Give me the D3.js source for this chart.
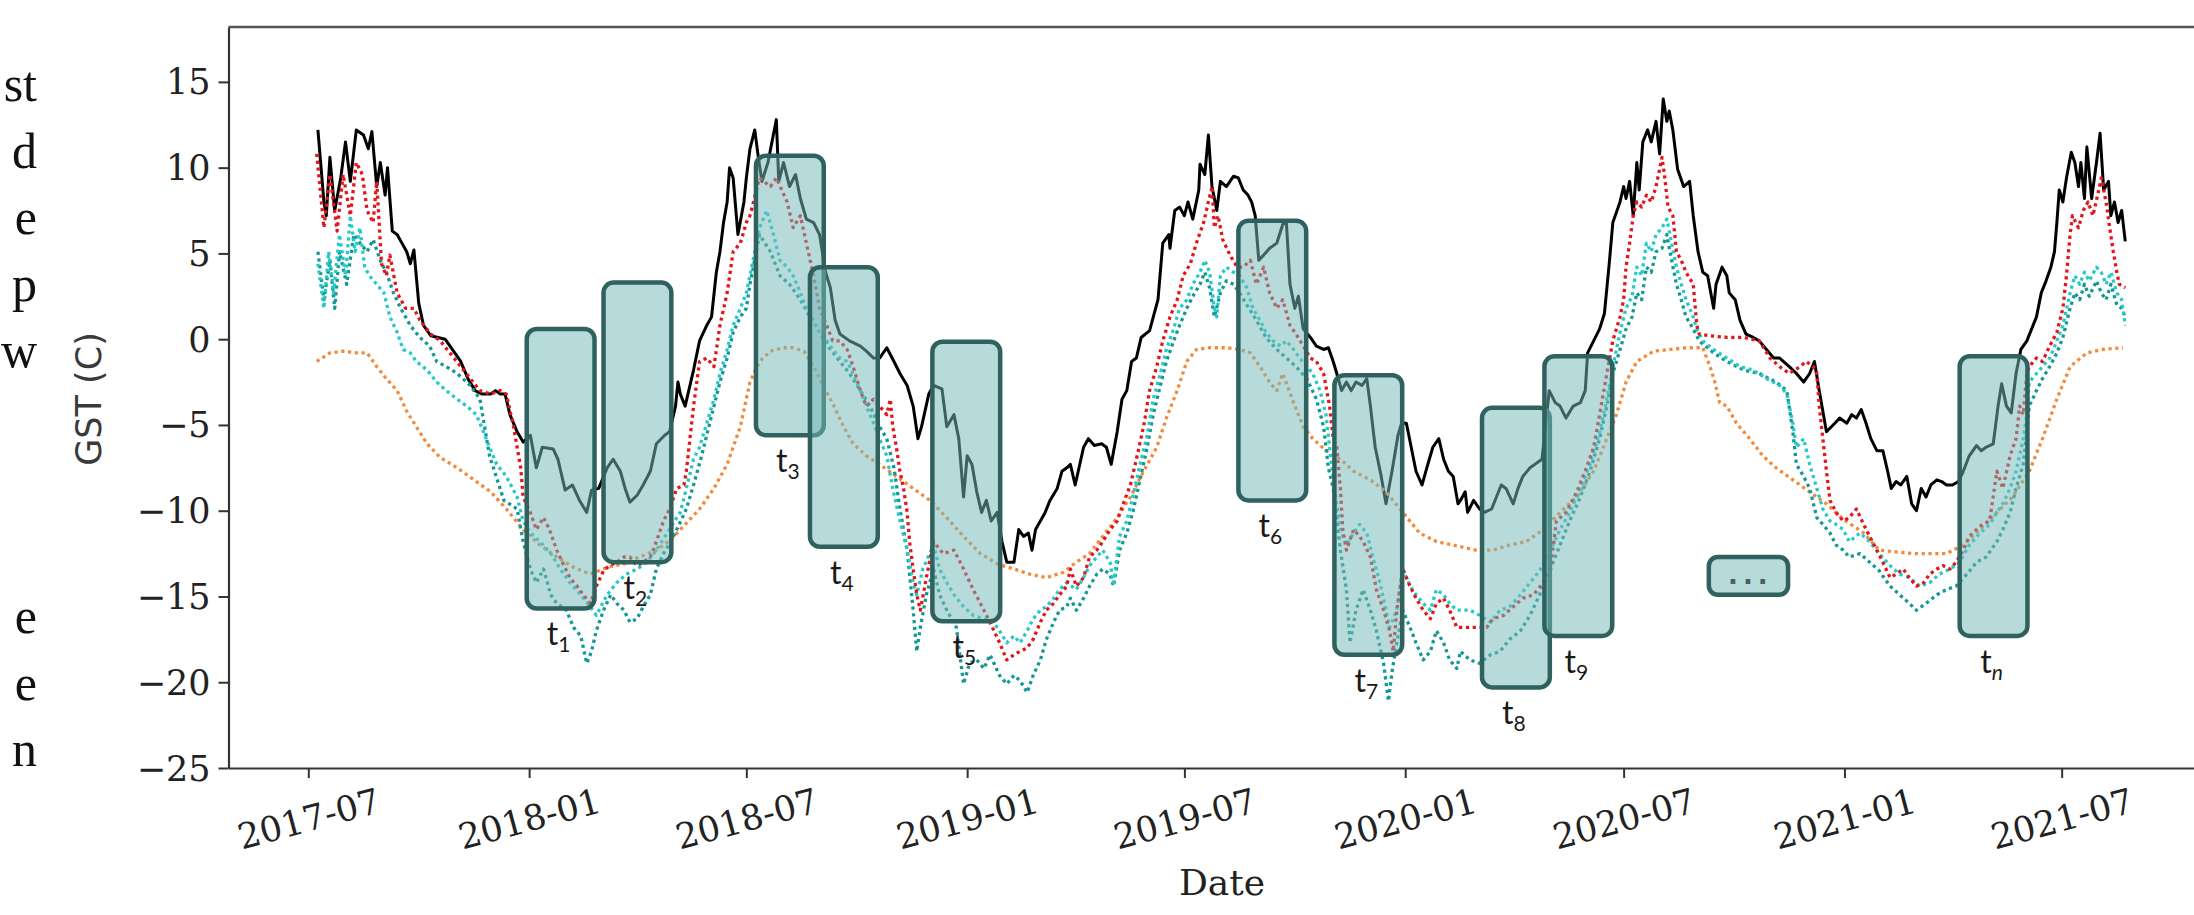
<!DOCTYPE html>
<html>
<head>
<meta charset="utf-8">
<script src="https://cdn.jsdelivr.net/npm/d3@7"></script>
<style>
  html, body { margin: 0; padding: 0; background: #fff; }
  svg { display: block; }
</style>
</head>
<body>
<svg id="chart" width="2194" height="915"></svg>
<script>
// Ground surface temperature series, each point is [day offset from 1 Jan 2018, °C]
const observed = [
  [-176,12.2],[-171,8.0],[-169,7.2],[-166,10.6],[-162,7.5],[-157,9.4],[-153,11.5],[-149,9.2],[-144,12.2],[-138,11.9],
  [-134,11.1],[-131,12.1],[-127,8.9],[-124,10.3],[-120,8.4],[-118,10.0],[-114,6.3],[-110,6.1],[-106,5.6],[-102,5.1],
  [-99,4.4],[-96,5.2],[-92,2.1],[-88,0.8],[-82,0.2],[-76,0.1],[-70,0.0],[-63,-0.7],[-57,-1.3],[-51,-2.3],[-45,-3.0],
  [-39,-3.2],[-32,-3.2],[-28,-3.0],[-24,-3.2],[-20,-3.2],[-16,-4.4],[-10,-5.4],[-5,-6.0],[1,-5.6],[6,-7.5],[11,-6.3],
  [20,-6.4],[24,-7.0],[30,-8.8],[36,-8.5],[42,-9.4],[48,-10.1],[52,-8.8],[58,-8.7],[65,-7.5],[70,-7.0],[76,-7.7],
  [80,-8.7],[84,-9.5],[90,-9.1],[95,-8.5],[101,-7.7],[106,-6.1],[113,-5.6],[117,-5.4],[122,-3.9],[124,-2.5],[126,-3.2],
  [130,-3.9],[137,-1.8],[142,-0.1],[148,0.8],[152,1.3],[156,3.9],[159,5.1],[162,6.8],[165,8.0],[167,10.0],[170,9.4],
  [174,6.1],[179,8.0],[181,9.4],[184,11.1],[188,12.2],[191,10.6],[194,9.2],[199,10.3],[206,12.8],[208,9.2],[212,10.3],
  [217,8.9],[222,9.6],[226,8.2],[231,7.0],[237,6.8],[242,6.1],[247,3.9],[251,3.0],[255,1.1],[259,0.3],[267,-0.1],
  [276,-0.4],[281,-0.7],[287,-1.1],[292,-1.1],[298,-0.5],[304,-1.3],[309,-2.0],[315,-2.7],[320,-3.9],[324,-5.8],
  [327,-5.1],[333,-3.2],[337,-2.7],[344,-2.9],[348,-5.1],[354,-4.4],[358,-5.8],[362,-9.2],[365,-6.8],[369,-7.3],
  [373,-8.9],[377,-10.1],[381,-9.4],[385,-10.6],[390,-10.1],[394,-11.8],[398,-13.0],[404,-13.0],[408,-11.1],[412,-11.5],
  [416,-11.3],[419,-12.3],[422,-11.1],[426,-10.6],[430,-10.1],[434,-9.4],[440,-8.7],[444,-7.7],[448,-7.5],[451,-7.3],
  [455,-8.5],[462,-6.3],[466,-5.8],[471,-6.2],[477,-6.1],[481,-6.3],[485,-7.3],[490,-5.4],[494,-3.5],[498,-3.0],
  [502,-1.3],[506,-1.1],[510,0.1],[517,0.5],[524,2.3],[528,5.6],[533,6.1],[534,5.3],[538,7.5],[542,7.7],[546,7.2],
  [549,8.0],[553,7.0],[558,8.7],[559,10.2],[563,9.6],[566,11.9],[569,8.9],[573,7.5],[576,9.2],[581,8.9],[587,9.5],
  [591,9.4],[595,8.7],[599,8.4],[602,8.0],[605,7.2],[608,4.6],[612,4.9],[617,5.3],[623,5.6],[628,6.7],[631,6.8],
  [634,3.2],[638,1.8],[641,2.5],[645,0.6],[651,0.1],[656,-0.4],[662,-0.6],[666,-0.5],[670,-1.3],[673,-2.0],[677,-3.0],
  [681,-2.5],[685,-3.0],[689,-2.5],[694,-2.7],[698,-2.3],[701,-3.9],[705,-6.3],[710,-8.0],[714,-9.6],[719,-7.7],
  [724,-5.6],[727,-4.9],[731,-4.9],[735,-6.3],[739,-7.7],[744,-8.5],[748,-7.5],[753,-6.3],[758,-5.8],[762,-7.0],
  [766,-7.7],[770,-8.0],[774,-9.6],[776,-9.4],[780,-8.9],[782,-10.1],[787,-9.4],[792,-9.9],[796,-10.1],[802,-9.9],
  [806,-9.2],[810,-8.5],[814,-8.7],[820,-9.6],[824,-8.7],[828,-8.0],[834,-7.5],[838,-7.3],[844,-7.0],[850,-3.0],
  [855,-3.7],[859,-3.9],[864,-4.6],[870,-3.9],[876,-3.7],[880,-3.0],[882,-0.8],[887,-0.1],[892,0.6],[896,1.5],
  [900,4.4],[903,6.8],[909,8.0],[912,8.9],[914,8.2],[917,9.2],[920,7.2],[923,10.3],[925,8.7],[928,11.5],[932,12.2],
  [935,11.5],[939,12.7],[942,10.8],[945,14.0],[948,12.7],[950,13.3],[953,12.2],[957,9.9],[962,8.9],[967,9.2],
  [970,7.2],[974,5.1],[978,3.9],[982,3.7],[987,1.8],[989,3.2],[994,4.2],[998,3.7],[1000,2.7],[1005,2.3],[1009,1.1],
  [1014,0.3],[1020,0.1],[1025,-0.1],[1031,-0.6],[1037,-1.1],[1042,-1.1],[1050,-1.6],[1056,-2.0],[1062,-2.5],
  [1067,-2.0],[1071,-1.3],[1075,-3.0],[1081,-5.4],[1088,-4.9],[1092,-4.6],[1098,-4.9],[1102,-4.4],[1106,-4.6],
  [1110,-4.1],[1114,-4.9],[1118,-5.8],[1123,-6.5],[1128,-6.5],[1132,-7.7],[1135,-8.7],[1139,-8.3],[1143,-8.5],
  [1148,-8.0],[1152,-9.6],[1156,-10.0],[1160,-8.7],[1164,-9.2],[1168,-8.5],[1173,-8.2],[1177,-8.3],[1181,-8.5],
  [1186,-8.5],[1191,-8.3],[1195,-7.7],[1200,-6.8],[1206,-6.2],[1210,-6.5],[1214,-6.3],[1220,-6.1],[1224,-3.9],
  [1227,-2.6],[1231,-3.9],[1235,-4.3],[1239,-2.0],[1243,-0.6],[1248,-0.1],[1252,0.6],[1256,1.3],[1260,2.7],
  [1264,3.4],[1268,4.2],[1271,5.1],[1273,6.8],[1275,8.7],[1278,8.0],[1281,9.4],[1285,10.9],[1288,10.3],[1291,8.9],
  [1293,10.3],[1296,8.2],[1298,11.2],[1302,8.2],[1306,10.3],[1309,12.0],[1312,8.7],[1316,9.2],[1318,7.2],[1321,8.0],
  [1324,6.8],[1327,7.5],[1330,5.7]
];

const modelRed = [
  [-177,10.8],[-171,6.5],[-166,9.6],[-160,6.3],[-155,9.6],[-149,7.2],[-144,10.3],[-139,9.6],[-135,7.5],[-130,6.8],
  [-127,9.2],[-123,4.4],[-119,3.7],[-116,4.9],[-110,2.7],[-103,1.8],[-96,1.8],[-91,1.1],[-82,0.3],[-74,-0.1],
  [-66,-0.8],[-57,-1.6],[-49,-2.3],[-41,-3.0],[-32,-3.2],[-24,-3.0],[-19,-3.2],[-13,-5.1],[-7,-7.5],[-5,-9.2],
  [1,-10.1],[6,-11.1],[12,-10.4],[17,-11.1],[23,-12.3],[29,-13.2],[34,-13.9],[40,-14.4],[45,-14.9],[51,-15.4],
  [56,-14.4],[62,-13.5],[67,-13.2],[73,-13.0],[79,-12.7],[84,-12.7],[90,-13.2],[95,-13.0],[101,-12.7],[106,-11.8],
  [112,-10.6],[117,-9.9],[123,-8.7],[129,-8.5],[131,-7.7],[137,-3.9],[142,-1.3],[148,-1.1],[154,-1.6],[159,0.8],
  [165,2.7],[170,5.1],[176,5.6],[181,6.8],[184,7.2],[192,9.4],[201,8.9],[206,9.4],[215,8.0],[220,6.5],[226,7.2],
  [231,5.6],[237,3.7],[242,1.8],[248,0.8],[253,-0.1],[259,-0.1],[265,-0.6],[270,-1.6],[276,-3.0],[281,-3.9],
  [287,-3.5],[292,-3.9],[298,-4.4],[301,-3.5],[303,-5.1],[306,-6.3],[309,-7.7],[312,-8.7],[315,-10.1],[317,-11.8],
  [320,-13.4],[323,-14.9],[326,-15.8],[331,-13.9],[337,-11.8],[345,-12.5],[354,-12.3],[362,-13.4],[370,-14.6],
  [376,-15.4],[384,-16.5],[392,-17.7],[398,-18.7],[404,-18.4],[409,-18.2],[415,-18.0],[420,-17.5],[426,-16.5],
  [431,-15.8],[437,-15.4],[442,-14.9],[448,-14.4],[451,-13.4],[456,-14.4],[462,-13.9],[467,-12.7],[473,-12.3],
  [478,-11.8],[484,-11.1],[490,-10.6],[495,-9.6],[501,-8.5],[506,-7.0],[512,-5.1],[517,-3.0],[523,-1.6],[528,-0.1],
  [534,1.3],[540,2.3],[545,3.7],[551,4.4],[556,5.6],[562,6.8],[566,8.0],[569,8.9],[571,6.5],[574,7.2],[578,5.8],
  [584,4.9],[590,4.2],[595,4.2],[601,4.6],[606,3.2],[612,4.2],[617,2.7],[623,1.8],[628,2.3],[634,0.8],[639,0.3],
  [645,-0.4],[651,-1.1],[656,-1.3],[662,-2.0],[667,-3.9],[670,-5.8],[673,-6.3],[676,-8.7],[678,-11.1],[681,-12.3],
  [687,-11.1],[692,-11.5],[695,-11.8],[701,-12.7],[706,-14.6],[712,-15.8],[717,-17.0],[720,-18.2],[723,-15.8],
  [728,-13.4],[734,-14.4],[739,-15.1],[745,-15.8],[751,-16.3],[756,-15.4],[762,-15.1],[767,-15.8],[773,-16.8],
  [787,-16.8],[798,-16.8],[803,-16.3],[812,-16.1],[820,-15.6],[828,-15.1],[837,-14.9],[845,-14.2],[851,-13.4],
  [856,-10.6],[864,-10.1],[873,-8.9],[881,-7.5],[887,-6.3],[892,-4.4],[898,-2.0],[903,-0.1],[909,1.3],[912,2.3],
  [914,4.2],[917,5.6],[920,7.2],[923,8.0],[927,7.7],[931,8.4],[935,8.0],[939,8.9],[944,10.6],[946,9.6],[949,7.7],
  [953,7.2],[956,5.1],[960,4.6],[964,3.9],[970,3.2],[973,0.8],[975,0.3],[984,0.2],[998,0.1],[1012,0.1],[1025,-0.1],
  [1034,-1.1],[1042,-1.6],[1050,-2.0],[1059,-1.6],[1064,-1.3],[1070,-1.6],[1073,-2.0],[1075,-3.9],[1078,-5.8],
  [1081,-7.7],[1084,-9.4],[1089,-10.1],[1095,-10.6],[1100,-10.4],[1106,-9.9],[1112,-10.8],[1117,-11.5],[1123,-12.3],
  [1128,-13.0],[1134,-13.9],[1139,-13.7],[1145,-13.4],[1150,-13.9],[1156,-14.4],[1162,-14.2],[1167,-13.7],
  [1173,-13.4],[1178,-13.2],[1184,-13.4],[1189,-13.0],[1195,-12.3],[1200,-11.5],[1206,-11.1],[1211,-10.8],
  [1217,-10.6],[1223,-7.7],[1228,-8.7],[1234,-6.8],[1239,-5.8],[1242,-3.9],[1245,-4.4],[1248,-2.0],[1250,-1.6],
  [1256,-1.1],[1261,-1.3],[1267,-0.4],[1273,0.4],[1278,1.8],[1281,3.7],[1284,6.1],[1286,7.2],[1291,6.5],[1295,7.5],
  [1299,8.0],[1303,7.2],[1307,8.4],[1310,9.4],[1314,8.0],[1317,6.5],[1320,5.1],[1323,3.9],[1325,3.2],[1330,3.0]
];

const modelCyan = [
  [-176,4.4],[-171,1.8],[-167,5.1],[-163,2.7],[-158,6.1],[-153,3.7],[-149,7.2],[-145,5.1],[-141,6.5],[-137,4.2],
  [-133,3.7],[-127,3.2],[-121,2.7],[-116,1.3],[-110,0.4],[-105,-0.6],[-99,-0.8],[-94,-1.3],[-85,-1.8],[-77,-2.5],
  [-69,-3.0],[-60,-3.5],[-52,-3.9],[-44,-4.4],[-38,-5.4],[-33,-6.3],[-27,-7.3],[-19,-8.0],[-10,-9.2],[-5,-10.6],
  [1,-11.3],[9,-11.8],[18,-12.5],[26,-13.4],[34,-14.2],[43,-14.9],[51,-15.6],[56,-16.1],[65,-14.9],[73,-14.2],
  [81,-13.7],[90,-13.4],[98,-13.0],[106,-12.3],[115,-11.3],[123,-10.4],[126,-10.1],[131,-8.7],[137,-7.0],[142,-6.3],
  [148,-4.9],[154,-3.5],[159,-2.0],[165,-0.6],[170,0.8],[176,1.8],[181,2.7],[184,3.7],[192,6.5],[198,7.5],[204,6.0],
  [209,4.6],[215,4.2],[220,3.7],[226,2.7],[231,1.8],[237,1.1],[242,0.3],[248,-0.1],[253,-0.6],[259,-1.1],[265,-1.3],
  [270,-2.0],[276,-3.0],[281,-3.9],[287,-4.9],[292,-5.8],[298,-6.8],[303,-8.7],[309,-10.6],[315,-12.3],[320,-14.2],
  [323,-14.9],[328,-13.4],[337,-12.0],[342,-13.4],[348,-14.2],[354,-14.9],[362,-15.6],[370,-16.1],[378,-16.3],
  [387,-16.5],[392,-17.0],[398,-17.7],[404,-17.3],[409,-17.7],[415,-17.0],[420,-16.3],[426,-15.8],[431,-15.6],
  [437,-15.1],[442,-14.6],[448,-14.2],[456,-14.6],[462,-13.9],[467,-13.2],[473,-12.7],[478,-12.3],[484,-13.0],
  [487,-14.2],[492,-11.5],[498,-10.6],[503,-9.2],[509,-7.3],[515,-5.6],[520,-3.5],[526,-2.0],[531,-0.6],[537,0.6],
  [542,1.8],[548,2.3],[553,3.2],[559,3.9],[563,4.6],[567,3.9],[571,1.8],[573,1.3],[576,3.7],[581,4.2],[587,3.9],
  [592,3.7],[598,3.0],[603,1.8],[609,1.1],[614,0.4],[620,-0.1],[626,-0.4],[631,-0.1],[637,-0.6],[642,-1.1],
  [648,-1.6],[653,-2.0],[659,-3.0],[664,-4.4],[667,-6.3],[670,-8.2],[676,-11.1],[681,-12.0],[687,-11.3],[692,-10.8],
  [698,-11.3],[703,-12.7],[709,-14.2],[714,-15.8],[717,-16.8],[723,-15.8],[728,-13.4],[734,-14.4],[739,-14.9],
  [745,-15.4],[751,-15.8],[756,-14.6],[762,-14.9],[767,-15.4],[773,-15.8],[784,-15.8],[792,-16.1],[801,-16.5],
  [809,-15.8],[817,-15.6],[826,-14.9],[834,-14.2],[842,-13.5],[851,-12.3],[859,-11.1],[867,-10.1],[876,-8.7],
  [884,-7.3],[892,-5.4],[898,-3.5],[903,-1.6],[909,0.4],[914,1.8],[919,2.5],[923,4.2],[927,3.7],[931,5.6],[935,5.1],
  [939,6.1],[944,6.5],[948,7.0],[952,5.6],[956,4.2],[960,3.2],[964,2.3],[970,1.3],[973,0.6],[978,-0.1],[987,-0.6],
  [998,-1.1],[1009,-1.6],[1020,-1.8],[1031,-2.3],[1042,-2.7],[1048,-3.2],[1053,-4.9],[1056,-6.3],[1062,-5.8],
  [1067,-7.3],[1073,-8.7],[1078,-9.9],[1084,-10.6],[1089,-10.8],[1095,-11.1],[1100,-11.8],[1109,-11.3],[1117,-11.8],
  [1125,-12.5],[1134,-13.2],[1142,-13.7],[1150,-13.9],[1159,-14.4],[1167,-14.2],[1175,-13.7],[1184,-13.4],
  [1192,-13.0],[1200,-12.0],[1209,-11.3],[1217,-10.8],[1223,-10.1],[1228,-9.6],[1234,-8.7],[1239,-7.7],[1245,-5.8],
  [1248,-4.4],[1250,-2.5],[1256,-2.0],[1261,-1.6],[1267,-1.1],[1273,-0.1],[1278,0.8],[1284,2.7],[1288,3.7],
  [1292,3.2],[1296,3.9],[1300,3.4],[1306,4.2],[1310,3.9],[1314,3.2],[1318,3.9],[1323,2.7],[1327,2.3],[1330,0.8]
];

const modelTeal = [
  [-176,5.1],[-171,2.3],[-166,4.6],[-162,1.8],[-158,5.1],[-152,3.2],[-146,6.1],[-141,5.6],[-135,5.1],[-130,5.8],
  [-124,4.6],[-119,3.9],[-113,2.7],[-107,1.8],[-99,0.8],[-91,0.1],[-83,-0.4],[-77,-1.3],[-69,-1.6],[-60,-2.0],
  [-49,-2.7],[-41,-3.5],[-33,-6.8],[-21,-9.4],[-10,-9.9],[-5,-11.8],[1,-13.4],[6,-14.2],[12,-13.4],[18,-14.9],
  [23,-15.4],[31,-15.8],[37,-16.8],[43,-17.3],[48,-18.9],[52,-18.2],[56,-17.0],[62,-15.8],[68,-14.9],[73,-15.4],
  [79,-15.8],[84,-16.5],[90,-16.3],[95,-15.6],[101,-14.9],[106,-13.4],[112,-12.5],[118,-11.8],[123,-11.1],
  [131,-9.9],[137,-8.5],[143,-7.0],[148,-5.6],[154,-3.9],[159,-2.5],[165,-1.1],[170,0.4],[176,1.3],[181,1.8],
  [184,3.2],[192,6.1],[201,5.1],[209,3.7],[217,3.2],[226,2.3],[234,1.3],[242,0.4],[251,-0.6],[259,-1.3],[267,-2.0],
  [276,-3.0],[284,-3.9],[292,-5.1],[298,-5.8],[304,-7.5],[309,-9.9],[315,-12.3],[320,-15.8],[323,-18.2],[326,-16.8],
  [331,-14.9],[337,-13.4],[342,-14.9],[348,-15.8],[356,-16.8],[362,-20.1],[367,-18.9],[373,-18.7],[379,-19.2],
  [384,-18.4],[392,-19.6],[398,-20.1],[404,-19.6],[409,-19.9],[415,-20.6],[420,-19.6],[426,-18.7],[431,-17.5],
  [437,-16.5],[442,-15.8],[448,-15.6],[451,-15.1],[456,-15.8],[462,-15.1],[467,-14.4],[473,-13.7],[478,-13.4],
  [484,-13.7],[487,-14.4],[492,-12.3],[498,-11.3],[503,-10.1],[509,-8.2],[515,-6.3],[520,-4.4],[526,-2.7],
  [531,-1.3],[537,-0.1],[542,0.8],[548,1.8],[553,2.5],[559,3.2],[563,3.9],[567,3.0],[571,1.3],[576,2.7],[581,3.4],
  [587,3.2],[592,2.7],[598,2.0],[606,1.1],[614,0.1],[623,-0.6],[631,-1.1],[639,-1.6],[648,-2.3],[656,-3.5],
  [662,-5.1],[666,-7.5],[670,-8.7],[676,-12.3],[681,-14.6],[684,-17.7],[689,-15.8],[695,-14.6],[701,-15.8],
  [706,-17.0],[712,-18.9],[716,-21.1],[719,-19.4],[723,-17.7],[728,-15.8],[734,-16.8],[739,-17.7],[745,-18.7],
  [751,-18.2],[756,-17.0],[762,-17.7],[767,-18.7],[773,-19.2],[776,-18.2],[784,-18.7],[792,-18.9],[801,-18.4],
  [809,-18.2],[817,-17.5],[826,-17.0],[834,-16.1],[842,-14.9],[851,-13.4],[859,-12.0],[867,-10.6],[876,-9.2],
  [884,-7.7],[892,-5.8],[898,-3.9],[903,-2.0],[909,-0.6],[914,0.6],[919,1.3],[923,2.7],[927,2.3],[931,4.2],
  [935,3.9],[939,5.1],[944,5.3],[948,6.1],[952,4.6],[956,3.2],[960,2.3],[964,1.3],[970,0.6],[975,-0.1],[987,-0.8],
  [998,-1.3],[1012,-1.8],[1025,-2.0],[1039,-2.5],[1048,-3.0],[1053,-5.4],[1056,-7.3],[1062,-8.0],[1067,-8.7],
  [1073,-10.4],[1078,-10.8],[1084,-11.3],[1089,-12.0],[1095,-12.3],[1100,-12.7],[1109,-12.5],[1117,-13.0],
  [1125,-13.5],[1134,-14.4],[1142,-14.9],[1150,-15.4],[1156,-15.8],[1164,-15.4],[1173,-14.9],[1181,-14.6],
  [1189,-14.4],[1198,-13.7],[1206,-13.0],[1214,-12.7],[1223,-11.8],[1228,-11.1],[1234,-10.1],[1239,-8.7],
  [1245,-7.3],[1248,-5.4],[1250,-3.9],[1256,-3.0],[1261,-2.3],[1267,-1.6],[1273,-0.8],[1278,0.1],[1284,1.8],
  [1288,2.7],[1292,2.3],[1296,3.2],[1300,2.5],[1306,3.4],[1310,2.7],[1314,2.3],[1318,3.2],[1323,2.0],[1327,1.8],
  [1330,1.3]
];

const modelOrange = [
  [-177,-1.3],[-166,-0.8],[-155,-0.7],[-144,-0.8],[-135,-0.8],[-127,-1.6],[-119,-2.3],[-110,-3.0],[-102,-4.2],
  [-94,-5.1],[-85,-6.1],[-74,-6.9],[-60,-7.5],[-46,-8.2],[-32,-8.9],[-19,-9.9],[-5,-11.1],[9,-12.0],[23,-12.7],
  [37,-13.3],[51,-13.7],[65,-13.3],[79,-13.1],[92,-12.7],[106,-12.3],[118,-11.7],[126,-11.1],[142,-9.9],[154,-8.7],
  [165,-7.3],[176,-5.1],[184,-2.5],[192,-1.3],[201,-0.7],[212,-0.5],[220,-0.5],[229,-0.7],[237,-1.6],[245,-2.7],
  [254,-3.9],[262,-5.1],[270,-6.1],[281,-6.8],[292,-7.3],[306,-8.0],[320,-8.7],[334,-9.4],[348,-10.4],[362,-11.5],
  [376,-12.5],[390,-13.1],[404,-13.4],[417,-13.7],[431,-13.9],[445,-13.6],[456,-13.0],[467,-12.5],[478,-11.5],
  [490,-10.4],[501,-9.2],[512,-7.7],[523,-6.3],[531,-4.6],[540,-3.0],[548,-1.3],[556,-0.6],[567,-0.5],[581,-0.5],
  [592,-0.6],[601,-0.8],[609,-1.6],[617,-2.5],[623,-3.0],[628,-2.0],[637,-3.7],[645,-5.1],[653,-5.8],[664,-6.5],
  [676,-7.0],[687,-7.7],[701,-8.2],[714,-8.9],[728,-10.1],[742,-11.3],[756,-11.8],[770,-12.0],[789,-12.3],
  [803,-12.3],[817,-12.0],[831,-11.8],[845,-11.1],[859,-10.1],[873,-9.2],[887,-7.7],[898,-5.8],[906,-4.4],
  [914,-2.5],[923,-1.3],[937,-0.7],[951,-0.6],[964,-0.5],[978,-0.5],[984,-1.6],[988,-2.5],[992,-3.7],[998,-3.9],
  [1006,-4.9],[1017,-5.8],[1028,-6.8],[1039,-7.5],[1053,-8.2],[1067,-8.9],[1081,-9.6],[1095,-10.5],[1112,-11.3],
  [1125,-12.3],[1139,-12.4],[1153,-12.5],[1167,-12.5],[1181,-12.5],[1195,-12.0],[1209,-11.1],[1223,-10.1],
  [1236,-9.2],[1250,-7.7],[1261,-5.8],[1273,-3.5],[1284,-1.6],[1298,-0.8],[1311,-0.6],[1328,-0.5]
];

// Sliding windows: first day (offset from 1 Jan 2018) and upper temperature bound
const windowLabels = ["1", "2", "3", "4", "5", "6", "7", "8", "9", "n"];
const windowStart  = [-2, 62, 189, 234, 336, 591, 671, 794, 846, 1192];
const windowTop    = [0.6, 3.3, 10.7, 4.2, -0.15, 6.9, -2.1, -4.0, -1.0, -1.0];
const windowDays = 56.5;   // window length in days
const windowSpan = 16.3;   // window height in °C
// the "..." placeholder window
const ellipsisWindow = { start: 983, end: 1049, top: -12.7, bottom: -14.9 };

const yTicks = [15, 10, 5, 0, -5, -10, -15, -20, -25];
const xTickLabels = ["2017-07", "2018-01", "2018-07", "2019-01", "2019-07",
                     "2020-01", "2020-07", "2021-01", "2021-07"];

// Line endings of the neighbouring page text
const sideText = ["st", "d", "e", "p", "w", "", "", "", "e", "e", "n"];

const EPOCH = Date.UTC(2018, 0, 1);
const dayToDate = d => new Date(EPOCH + d * 864e5);

const svg = d3.select("#chart");
const W = 2194, H = 915;
const plot = { left: 228.5, top: 27, bottom: 768, right: 2216 };

const x = d3.scaleUtc()
  .domain([dayToDate(-250.5), dayToDate(1405.6)])
  .range([plot.left, plot.right]);
const y = d3.scaleLinear()
  .domain([-25, 18.2])
  .range([plot.bottom, plot.top]);

// side text
svg.append("g")
  .attr("font-family", "'Liberation Serif', 'Times New Roman', serif")
  .attr("font-size", 50)
  .attr("fill", "#111")
  .selectAll("text")
  .data(sideText)
  .join("text")
  .attr("x", 37)
  .attr("y", (d, i) => 101 + i * 66.5)
  .attr("text-anchor", "end")
  .text(d => d);

// series
const line = d3.line()
  .x(d => x(dayToDate(d[0])))
  .y(d => y(d[1]))
  .curve(d3.curveLinear);

const seriesGroup = svg.append("g");
seriesGroup.append("path")
  .datum(observed)
  .attr("d", line)
  .attr("fill", "none")
  .attr("stroke", "#000")
  .attr("stroke-width", 3)
  .attr("stroke-linejoin", "round");

const dotted = [
  { data: modelOrange, color: "#f28a3c" },
  { data: modelTeal,   color: "#139893" },
  { data: modelCyan,   color: "#26c9c9" },
  { data: modelRed,    color: "#e3161c" }
];
dotted.forEach(s => {
  seriesGroup.append("path")
    .datum(s.data)
    .attr("d", line)
    .attr("fill", "none")
    .attr("stroke", s.color)
    .attr("stroke-width", 3.3)
    .attr("stroke-dasharray", "3.2,3.6")
    .attr("stroke-linejoin", "round");
});

// axes
const yAxis = d3.axisLeft(y)
  .tickValues(yTicks)
  .tickSize(10)
  .tickSizeOuter(0)
  .tickPadding(8)
  .tickFormat(d => d < 0 ? "\u2212" + Math.abs(d) : String(d));
const gy = svg.append("g")
  .attr("transform", `translate(${plot.left},0)`)
  .call(yAxis);
gy.select(".domain").attr("stroke", "#333").attr("stroke-width", 2.2);
gy.selectAll(".tick line").attr("stroke", "#333").attr("stroke-width", 2);
gy.selectAll(".tick text")
  .attr("font-family", "'DejaVu Serif', serif")
  .attr("font-size", 35)
  .attr("fill", "#222")
  .attr("dy", null)
  .attr("dominant-baseline", "central");

const xTickDates = xTickLabels.map(s => new Date(s + "-01T00:00:00Z"));
const xAxis = d3.axisBottom(x)
  .tickValues(xTickDates)
  .tickSize(10)
  .tickSizeOuter(0)
  .tickFormat((d, i) => xTickLabels[i]);
const gx = svg.append("g")
  .attr("transform", `translate(0,${plot.bottom})`)
  .call(xAxis);
gx.select(".domain").attr("stroke", "#333").attr("stroke-width", 2.2);
gx.selectAll(".tick line").attr("stroke", "#333").attr("stroke-width", 2);
gx.selectAll(".tick text")
  .attr("font-family", "'DejaVu Serif', serif")
  .attr("font-size", 35)
  .attr("fill", "#222")
  .attr("y", 51)
  .attr("dy", null)
  .attr("dominant-baseline", "central")
  .attr("text-anchor", "middle")
  .attr("transform", "rotate(-15,0,51)");

// top spine
svg.append("line")
  .attr("x1", plot.left).attr("x2", W)
  .attr("y1", plot.top).attr("y2", plot.top)
  .attr("stroke", "#555").attr("stroke-width", 2.4);

// axis titles
svg.append("text")
  .attr("x", 1222).attr("y", 895)
  .attr("text-anchor", "middle")
  .attr("font-family", "'DejaVu Serif', serif")
  .attr("font-size", 36)
  .attr("fill", "#222")
  .text("Date");
svg.append("text")
  .attr("transform", "translate(101,399) rotate(-90)")
  .attr("text-anchor", "middle")
  .attr("font-family", "'DejaVu Sans', sans-serif")
  .attr("font-size", 35)
  .attr("fill", "#3a3a3a")
  .text("GST (C)");

// windows
const windows = windowLabels.map((label, i) => ({
  label,
  x0: x(dayToDate(windowStart[i])),
  x1: x(dayToDate(windowStart[i] + windowDays)),
  y0: y(windowTop[i]),
  y1: y(windowTop[i] - windowSpan)
}));

const boxFill = "#74b8b8", boxOpacity = 0.52, boxStroke = "#2f625f";
const wg = svg.append("g");
windows.forEach(w => {
  wg.append("rect")
    .attr("x", w.x0).attr("y", w.y0)
    .attr("width", w.x1 - w.x0).attr("height", w.y1 - w.y0)
    .attr("rx", 10).attr("ry", 10)
    .attr("fill", boxFill).attr("fill-opacity", boxOpacity)
    .attr("stroke", boxStroke).attr("stroke-width", 4.5);
});
const ex0 = x(dayToDate(ellipsisWindow.start)), ex1 = x(dayToDate(ellipsisWindow.end));
const ey0 = y(ellipsisWindow.top), ey1 = y(ellipsisWindow.bottom);
wg.append("rect")
  .attr("x", ex0).attr("y", ey0)
  .attr("width", ex1 - ex0).attr("height", ey1 - ey0)
  .attr("rx", 9).attr("ry", 9)
  .attr("fill", boxFill).attr("fill-opacity", boxOpacity)
  .attr("stroke", boxStroke).attr("stroke-width", 4.5);
wg.append("text")
  .attr("x", (ex0 + ex1) / 2 + 2).attr("y", (ey0 + ey1) / 2 + 8)
  .attr("text-anchor", "middle")
  .attr("font-family", "'DejaVu Sans', sans-serif")
  .attr("font-weight", "bold")
  .attr("font-size", 26)
  .attr("letter-spacing", 5)
  .attr("fill", "#4d5f5f")
  .text("...");

// window labels t1 … tn
const lg = svg.append("g")
  .attr("font-family", "Lato, 'Open Sans', sans-serif")
  .attr("fill", "#1a1a1a");
windows.forEach(w => {
  const t = lg.append("text")
    .attr("x", (w.x0 + w.x1) / 2 - 2)
    .attr("y", w.y1 + 37)
    .attr("text-anchor", "middle")
    .attr("font-size", 32);
  t.append("tspan").text("t");
  t.append("tspan")
    .attr("font-size", 21)
    .attr("dy", 7)
    .attr("font-style", w.label === "n" ? "italic" : "normal")
    .text(w.label);
});
</script>
</body>
</html>
